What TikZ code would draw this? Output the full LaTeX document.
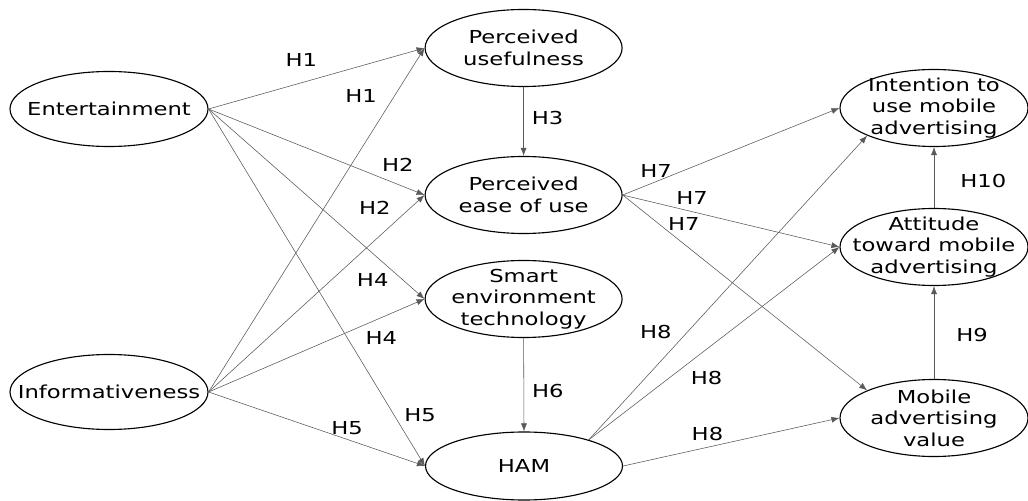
\documentclass[tikz,border=0pt]{standalone}
\usepackage{fontspec}
\setmainfont{DejaVu Sans}[FakeStretch=1.27]
\usetikzlibrary{shapes.geometric, arrows.meta}

\begin{document}
\begin{tikzpicture}[
        font=\fontsize{12.7}{15.3}\selectfont,
        var/.style={ellipse, draw, thick, inner sep=0pt,
            minimum width=4.925cm, minimum height=1.925cm},
        every label/.append style={align=center, inner sep=0pt},
        hyp/.style={draw=black!65, line width=0.4pt,
            -{Latex[length=2mm,width=1.5mm]}},
        hlab/.style={inner sep=0pt, black}
    ]
        \useasboundingbox (0,0) rectangle (25.7,12.5);

        % exogenous variables
        \node[var, minimum width=4.95cm, minimum height=1.875cm] (Entertainment)
            at (2.725,9.775) [label=center:Entertainment] {};
        \node[var, minimum width=4.95cm, minimum height=1.875cm] (Informativeness)
            at (2.725,2.7) [label=center:Informativeness] {};

        % mediators
        \node[var] (Usefulness) at (13.09,11.3)
            [label={center:Perceived\\usefulness}] {};
        \node[var] (Ease_of_use) at (13.09,7.625)
            [label={center:Perceived\\ease of use}] {};
        \node[var] (Smart_env) at (13.09,5.025)
            [label={center:Smart\\environment\\technology}] {};
        \node[var, minimum height=1.7cm] (HAM) at (13.1,0.85)
            [label=center:HAM] {};

        % outcomes
        \node[var, minimum width=4.7cm] (Intention) at (23.35,9.8)
            [label={center:Intention to\\use mobile\\advertising}] {};
        \node[var, minimum width=4.7cm] (Attitude) at (23.35,6.325)
            [label={center:Attitude\\toward mobile\\advertising}] {};
        \node[var, minimum width=4.7cm] (Ad_value) at (23.35,2.05)
            [label={center:Mobile\\advertising\\value}] {};

        % H1 - H5
        \draw[hyp] (Entertainment.east) -- (Usefulness.west)
            node[hlab, pos=0.43, above=0.4cm] {H1};
        \draw[hyp] (Informativeness.east) -- (Usefulness.west)
            node[hlab, pos=0.86, left=0.43cm] {H1};
        \draw[hyp] (Entertainment.east) -- (Ease_of_use.west)
            node[hlab, pos=0.876, above=0.31cm] {H2};
        \draw[hyp] (Informativeness.east) -- (Ease_of_use.west)
            node[hlab, pos=0.77, above=0.64cm] {H2};
        \draw[hyp] (Usefulness.south) -- (Ease_of_use.north)
            node[hlab, pos=0.45, right=0.2cm] {H3};
        \draw[hyp] (Entertainment.east) -- (Smart_env.west)
            node[hlab, pos=0.76, below=0.5cm] {H4};
        \draw[hyp] (Informativeness.east) -- (Smart_env.west)
            node[hlab, pos=0.8, below=0.34cm] {H4};
        \draw[hyp] (Entertainment.east) -- (HAM.west)
            node[hlab, pos=0.857, right=0.25cm] {H5};
        \draw[hyp] (Informativeness.east) -- (HAM.west)
            node[hlab, pos=0.64, above=0.1cm] {H5};

        % H6 - H8
        \draw[hyp] (Smart_env.south) -- (HAM.north)
            node[hlab, pos=0.57, right=0.2cm] {H6};
        \draw[hyp] (Ease_of_use.east) -- (Intention.west)
            node[hlab, pos=0.154, above=0.1cm] {H7};
        \draw[hyp] (Ease_of_use.east) -- (Attitude.west)
            node[hlab, pos=0.32, above=0.16cm] {H7};
        \draw[hyp] (Ease_of_use.east) -- (Ad_value.north west)
            node[hlab, pos=0.25, above=0.33cm] {H7};
        \draw[hyp] (HAM.22) -- (Intention.south west)
            node[hlab, pos=0.356, left=0.4cm] {H8};
        \draw[hyp] (HAM.22) -- (Attitude.west)
            node[hlab, pos=0.47, below=0.54cm] {H8};
        \draw[hyp] (HAM.east) -- (Ad_value.west)
            node[hlab, pos=0.39, above=0.16cm] {H8};

        % H9, H10
        \draw[hyp] (Ad_value.north) -- (Attitude.south)
            node[hlab, pos=0.47, right=0.55cm] {H9};
        \draw[hyp] (Attitude.north) -- (Intention.south)
            node[hlab, pos=0.435, right=0.65cm] {H10};
\end{tikzpicture}
\end{document}
